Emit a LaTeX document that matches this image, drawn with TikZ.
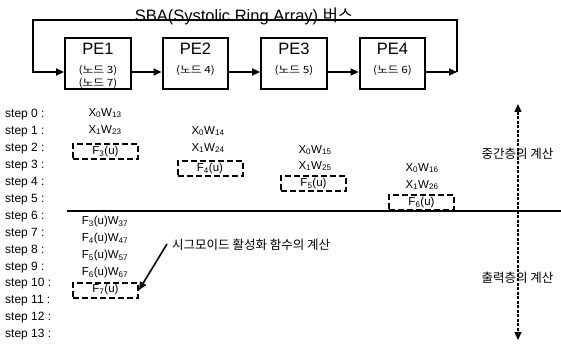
\documentclass[tikz,border=0pt]{standalone}
\usepackage{fontspec}
\setmainfont{Liberation Sans}
\newfontfamily\kr{Noto Sans CJK KR}
\newfontfamily\krw{Noto Sans CJK KR}[FakeStretch=1.18]
\usetikzlibrary{arrows.meta}
\begin{document}
\begin{tikzpicture}[x=1pt,y=-1pt,
  pebox/.style={draw, line width=2.4pt, minimum width=65.5pt, minimum height=51.5pt, inner sep=0pt},
  pelbl/.style={font=\fontsize{16.5}{17}\selectfont, inner sep=0pt},
  nodelbl/.style={font=\krw\fontsize{10}{11}\selectfont, inner sep=0pt},
  steplbl/.style={anchor=west, font=\fontsize{12}{13}\selectfont, inner sep=0pt},
  term/.style={font=\fontsize{11.5}{12}\selectfont, inner sep=0pt},
  fbox/.style={draw, line width=2pt, dash pattern=on 6pt off 3pt, minimum width=65pt, minimum height=15pt, inner sep=0pt, font=\fontsize{11.5}{12}\selectfont},
  krlbl/.style={font=\kr\fontsize{12.5}{13}\selectfont, inner sep=0pt},
  tip/.style={-{Triangle[length=8pt,width=7pt]}},
  ar/.style={line width=1.9pt, tip},
]
\useasboundingbox (0,0) rectangle (561,347);

% title
\node[anchor=base, font=\fontsize{16.5}{17}\selectfont, inner sep=0pt] (title) at (244,22) {SBA(Systolic Ring Array) {\kr 버스}};

% PE boxes
\node[pebox] (pe1) at (98,63.5) {};
\node[pebox] (pe2) at (195.5,63.5) {};
\node[pebox] (pe3) at (294,63.5) {};
\node[pebox] (pe4) at (392.5,63.5) {};
\node[pelbl] (pe1t) at (98,49) {PE1};
\node[pelbl] (pe2t) at (195.5,49) {PE2};
\node[pelbl] (pe3t) at (294,49) {PE3};
\node[pelbl] (pe4t) at (392.5,49) {PE4};
\node[nodelbl] (pe1a) at (98,70.5) {(노드 3)};
\node[nodelbl] (pe1b) at (98,83) {(노드 7)};
\node[nodelbl] (pe2a) at (195.5,70.5) {(노드 4)};
\node[nodelbl] (pe3a) at (294,70.5) {(노드 5)};
\node[nodelbl] (pe4a) at (392.5,70.5) {(노드 6)};

% ring
\coordinate (arow) at (0,72);
\coordinate (tl) at (33,20);
\coordinate (tr) at (457,20);
\coordinate (bl) at (33,72);
\coordinate (br) at (457,72);
\draw[ar] (pe1.east |- arow) -- (pe2.west |- arow);
\draw[ar] (pe2.east |- arow) -- (pe3.west |- arow);
\draw[ar] (pe3.east |- arow) -- (pe4.west |- arow);
\draw[ar] (pe4.east |- arow) -- (br);
\draw[ar, line join=miter] (br) -- (tr) -- (tl) -- (bl) -- (pe1.west |- arow);

% step labels
\foreach \k in {0,...,13} {
  \node[steplbl] (s\k) at (5,115+16.9*\k) {step \k\ :};
}

% column 1
\node[term] (c1a) at (105,113) {X\textsubscript{0}W\textsubscript{13}};
\node[term] (c1b) at (105,130) {X\textsubscript{1}W\textsubscript{23}};
\node[fbox] (f3) at (105.5,151.5) {F\textsubscript{3}(u)};
% column 2
\node[term] (c2a) at (208,131) {X\textsubscript{0}W\textsubscript{14}};
\node[term] (c2b) at (208,148) {X\textsubscript{1}W\textsubscript{24}};
\node[fbox] (f4) at (210,168.5) {F\textsubscript{4}(u)};
% column 3
\node[term] (c3a) at (315,150) {X\textsubscript{0}W\textsubscript{15}};
\node[term] (c3b) at (315,166) {X\textsubscript{1}W\textsubscript{25}};
\node[fbox] (f5) at (313.5,184) {F\textsubscript{5}(u)};
% column 4
\node[term] (c4a) at (422,168) {X\textsubscript{0}W\textsubscript{16}};
\node[term] (c4b) at (422,185) {X\textsubscript{1}W\textsubscript{26}};
\node[fbox] (f6) at (421.5,202.5) {F\textsubscript{6}(u)};

% separator line
\coordinate (hl) at (67,210.5);
\coordinate (hr) at (561,210.5);
\draw[line width=2pt] (hl) -- (hr);

% output layer
\node[term] (o3) at (105,222) {F\textsubscript{3}(u)W\textsubscript{37}};
\node[term] (o4) at (105,239) {F\textsubscript{4}(u)W\textsubscript{47}};
\node[term] (o5) at (105,256) {F\textsubscript{5}(u)W\textsubscript{57}};
\node[term] (o6) at (105,273) {F\textsubscript{6}(u)W\textsubscript{67}};
\node[fbox] (f7) at (105.5,290) {F\textsubscript{7}(u)};

% sigmoid note
\node[krlbl, anchor=west] (sig) at (172,245) {시그모이드 활성화 함수의 계산};
\draw[line width=1.6pt, tip] ([xshift=-5pt,yshift=1pt]sig.west) -- (f7.east);

% vertical dashed arrow
\coordinate (vt) at (518,104);
\coordinate (vb) at (518,340);
\draw[line width=1.4pt, dash pattern=on 3pt off 1.5pt, {Triangle[length=8pt,width=7pt]}-{Triangle[length=8pt,width=7pt]}] (vt) -- (vb);
\node[krlbl] (mid) at (517.5,154) {중간층의 계산};
\node[krlbl] (out) at (517.5,278) {출력층의 계산};
\end{tikzpicture}
\end{document}
